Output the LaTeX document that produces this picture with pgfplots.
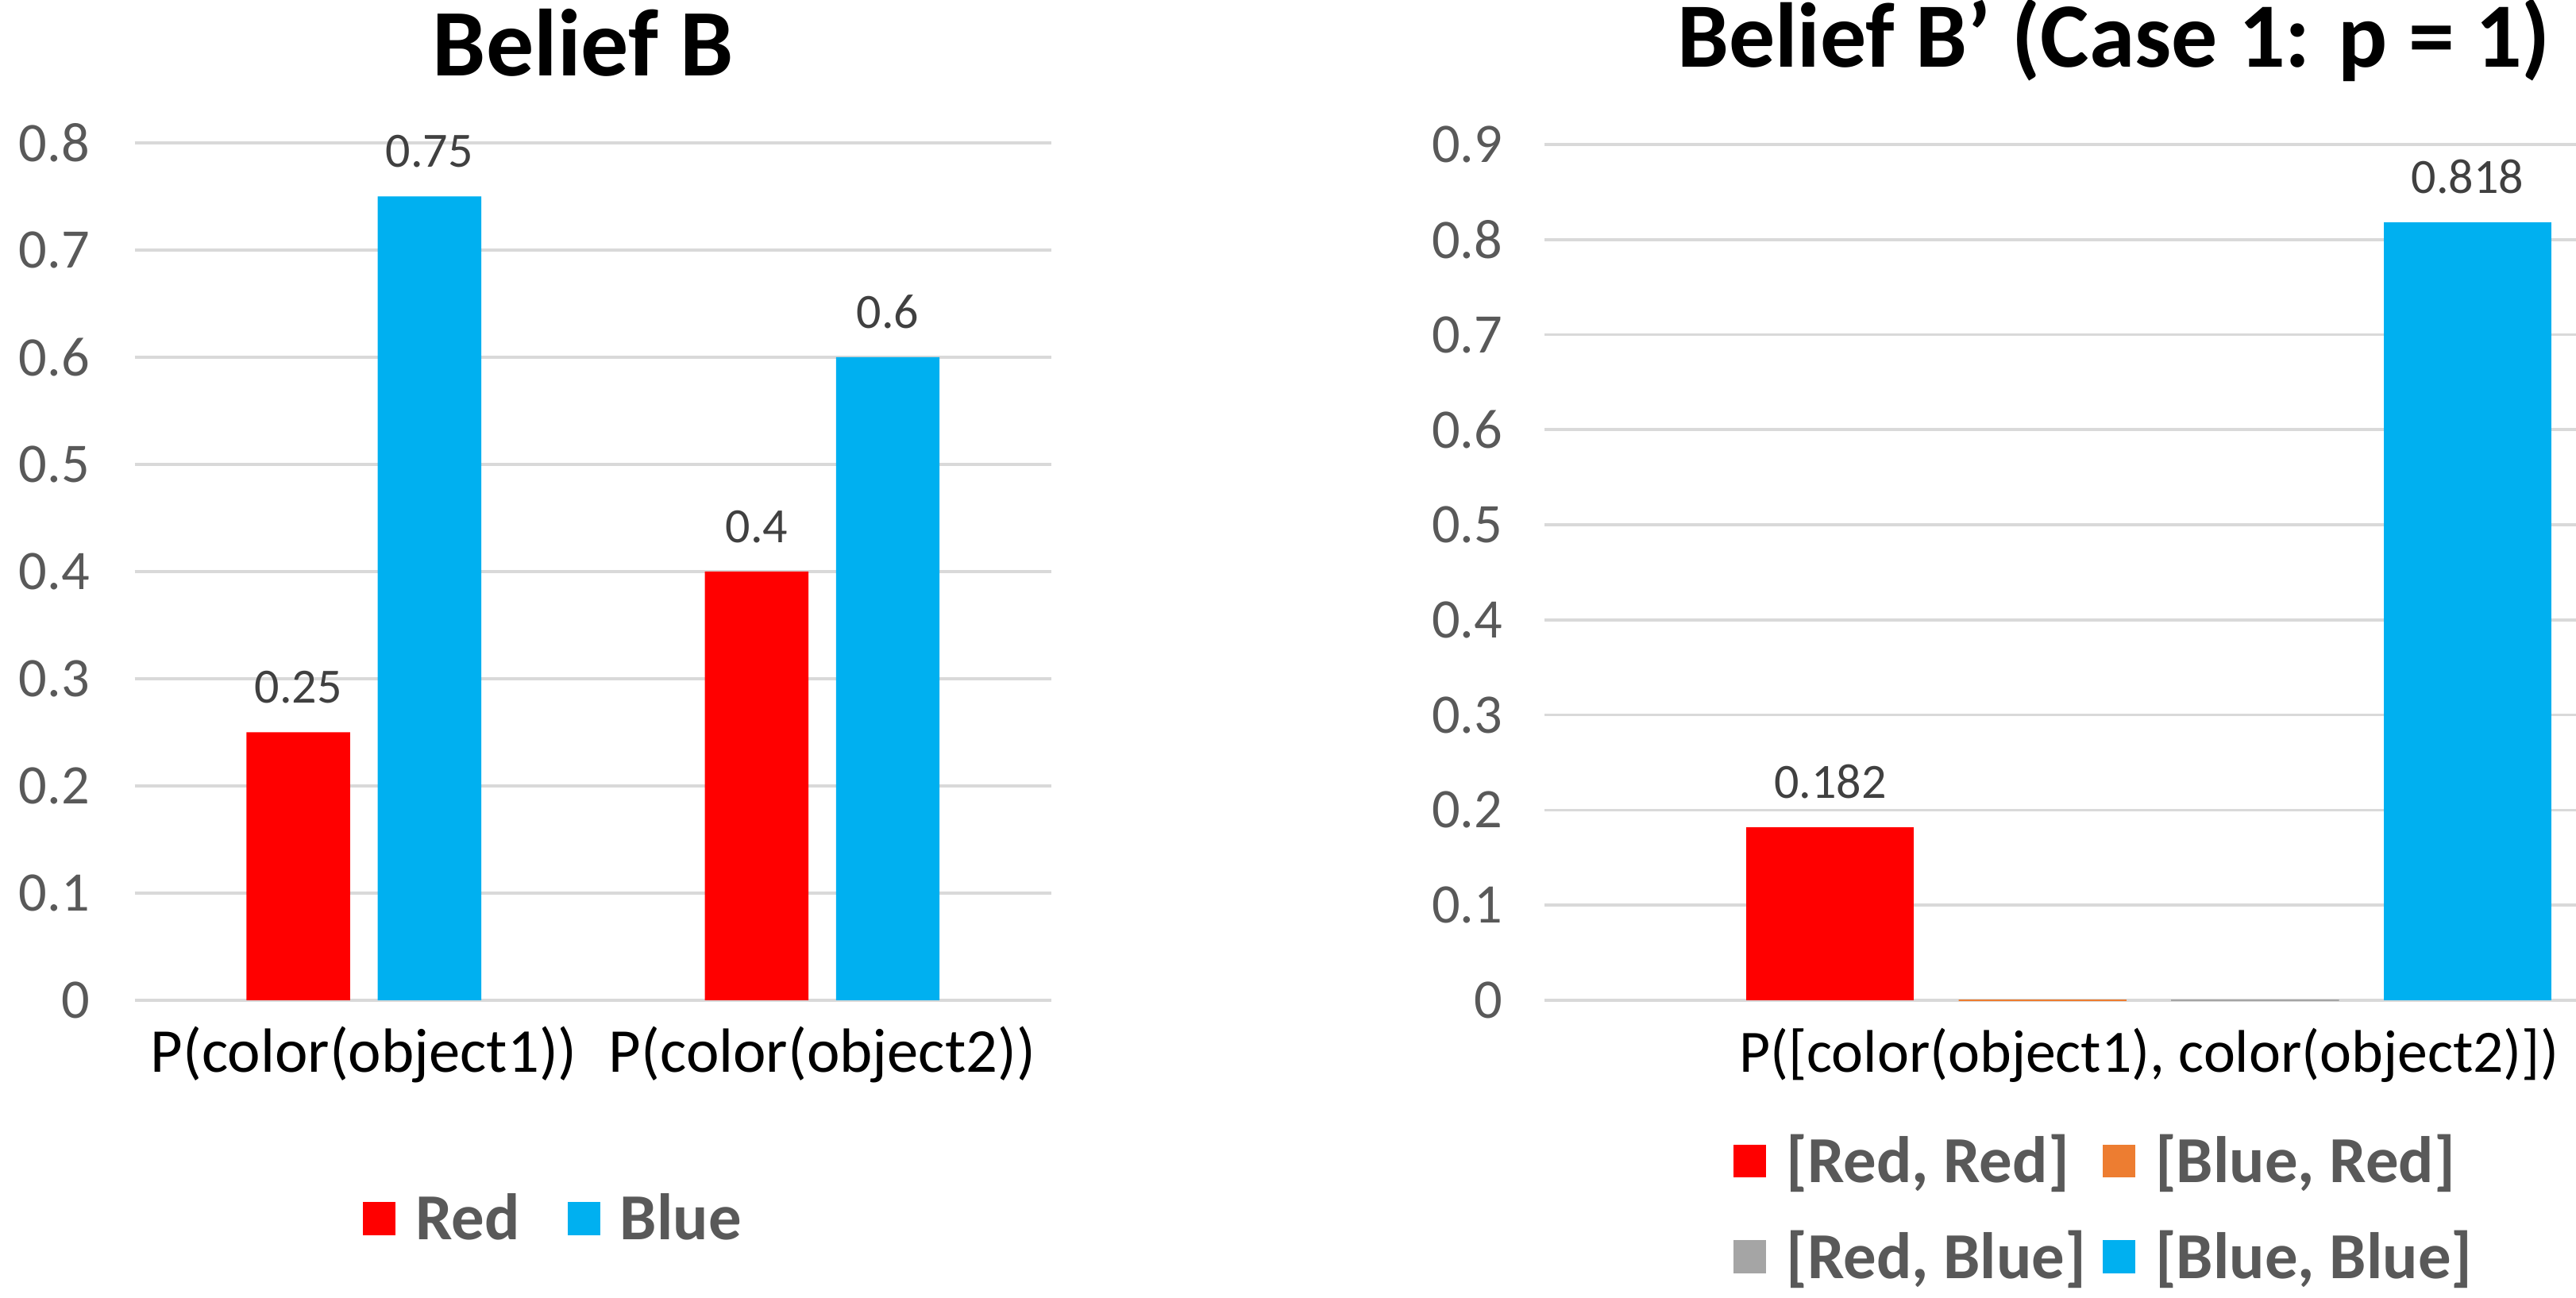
\documentclass[border=0pt]{standalone}
\usepackage{pgfplots}
\pgfplotsset{compat=1.18}
\usepackage{fontspec}
\setmainfont{Carlito}

\definecolor{xred}{HTML}{FF0000}
\definecolor{xblue}{HTML}{00B0F0}
\definecolor{xorange}{HTML}{ED7D31}
\definecolor{xgray}{HTML}{A5A5A5}
\definecolor{tickgray}{HTML}{595959}
\definecolor{valgray}{HTML}{404040}
\definecolor{gridgray}{HTML}{D9D9D9}

\pgfplotsset{
  excel/.style={
    ybar, scale only axis, ymin=0, clip=false,
    axis line style={draw=none}, major tick length=0pt,
    ymajorgrids, grid style={gridgray, line width=0.9pt},
    /pgf/number format/assume math mode=true,
    /pgf/number format/precision=3,
    yticklabel style={font=\fontsize{17}{20}\selectfont, text=tickgray, anchor=east, inner sep=0pt},
    xticklabel style={font=\fontsize{19}{22}\selectfont, text=black, anchor=base, inner sep=0pt, yshift=-22pt},
    every node near coord/.append style={font=\fontsize{15}{18}\selectfont, text=valgray, anchor=south, inner sep=0pt, yshift=8.5pt},
    title style={font=\fontsize{29}{34}\selectfont\bfseries, anchor=base},
    legend style={draw=none, fill=none, font=\fontsize{20}{24}\selectfont\bfseries, text=tickgray, anchor=center,
      /tikz/every odd column/.append style={column sep=4pt}},
    legend cell align=left,
    legend image code/.code={\fill[#1,draw=none] (0pt,-5pt) rectangle (10pt,5pt);},
  }
}

\begin{document}
\begin{tikzpicture}
\useasboundingbox (0,0) rectangle (784pt,395pt);

% left chart: Belief B
\begin{axis}[excel,
  at={(41pt,90.5pt)}, anchor=south west,
  width=279pt, height=261pt,
  xmin=-0.5, xmax=1.5, ymax=0.8,
  ytick={0,0.1,0.2,0.3,0.4,0.5,0.6,0.7,0.8},
  yticklabel style={xshift=-13.5pt},
  xtick={0,1}, xticklabels={P(color(object1)), P(color(object2))},
  bar width=0.226,
  title={Belief B},
  title style={at={(0.489,1)}, yshift=14.5pt},
  legend columns=2,
  legend style={at={(0.459,-0.2548)},
    /tikz/every even column/.append style={column sep=12.5pt}},
  ]
  \addplot[fill=xred, draw=none, bar shift=-0.143, nodes near coords] coordinates {(0,0.25) (1,0.4)};
  \addplot[fill=xblue, draw=none, bar shift=0.143, nodes near coords] coordinates {(0,0.75) (1,0.6)};
  \legend{Red, Blue}
\end{axis}

% right chart: Belief B'
\begin{axis}[excel,
  at={(470pt,90.5pt)}, anchor=south west,
  width=314pt, height=260.5pt,
  xmin=-2.846, xmax=2.011, ymax=0.9,
  ytick={0,0.1,0.2,0.3,0.4,0.5,0.6,0.7,0.8,0.9},
  yticklabel style={xshift=-12.5pt},
  xtick={0}, xticklabel={P([color(object1), color(object2)])},
  xticklabel style={font=\fontsize{18.3}{22}\selectfont},
  bar width=0.79,
  title={Belief B’ (Case 1: p = 1)},
  title style={at={(0.552,1)}, yshift=17.5pt, font=\fontsize{28}{34}\selectfont\bfseries},
  legend columns=2,
  legend style={at={(0.5446,-0.2438)}, row sep=9pt,
    /tikz/every even column/.append style={column sep=3pt}},
  ]
  \addplot[fill=xred, draw=none, bar shift=-1.5, nodes near coords] coordinates {(0,0.182)};
  \addlegendentry{[Red, Red]}
  \addplot[fill=xorange, draw=xorange, line width=0.6pt, bar shift=-0.5] coordinates {(0,0)};
  \addlegendentry{[Blue, Red]}
  \addplot[fill=xgray, draw=xgray, line width=0.6pt, bar shift=0.5] coordinates {(0,0)};
  \addlegendentry{[Red, Blue]}
  \addplot[fill=xblue, draw=none, bar shift=1.5, nodes near coords] coordinates {(0,0.818)};
  \addlegendentry{[Blue, Blue]}
\end{axis}
\end{tikzpicture}
\end{document}
